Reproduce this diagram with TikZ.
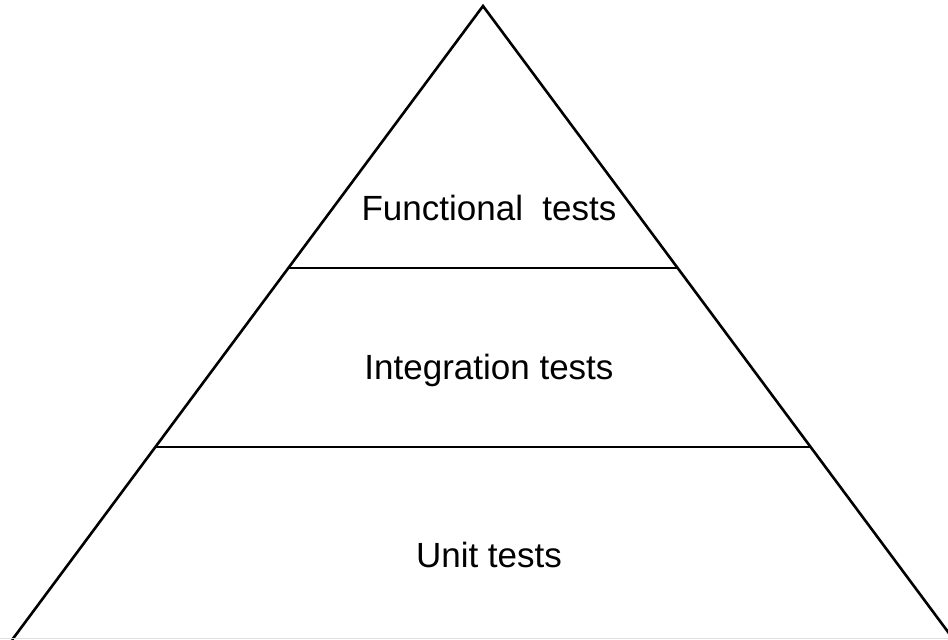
\documentclass[tikz,border=0pt]{standalone}
\usepackage{fontspec}
\setmainfont{Liberation Sans}
\begin{document}
\begin{tikzpicture}[x=1pt,y=-1pt,
  edge/.style={line width=2.6pt,black,line join=miter},
  lbl/.style={font=\fontsize{35}{42}\selectfont,inner sep=0pt,anchor=center}]
\useasboundingbox (0,0) rectangle (948,640);
\coordinate (apex) at (483,6);
\coordinate (bl) at (12,640);
\coordinate (br) at (954,640);
\coordinate (l1) at (288.4,268);
\coordinate (r1) at (677.6,268);
\coordinate (l2) at (155.4,447);
\coordinate (r2) at (810.6,447);
\begin{scope}
\clip (0,0) rectangle (948,640);
\draw[edge] (bl) -- (apex) -- (br);
\draw[line width=1.2pt,gray!25] (0,638.5) -- (948,638.5);
\end{scope}
\draw[edge] (l1) -- (r1);
\draw[edge] (l2) -- (r2);
\node[lbl] (f) at (489,208) {Functional\ \ tests};
\node[lbl] (i) at (489,370) {Integration tests};
\node[lbl] (u) at (489,555) {Unit tests};
\end{tikzpicture}
\end{document}
